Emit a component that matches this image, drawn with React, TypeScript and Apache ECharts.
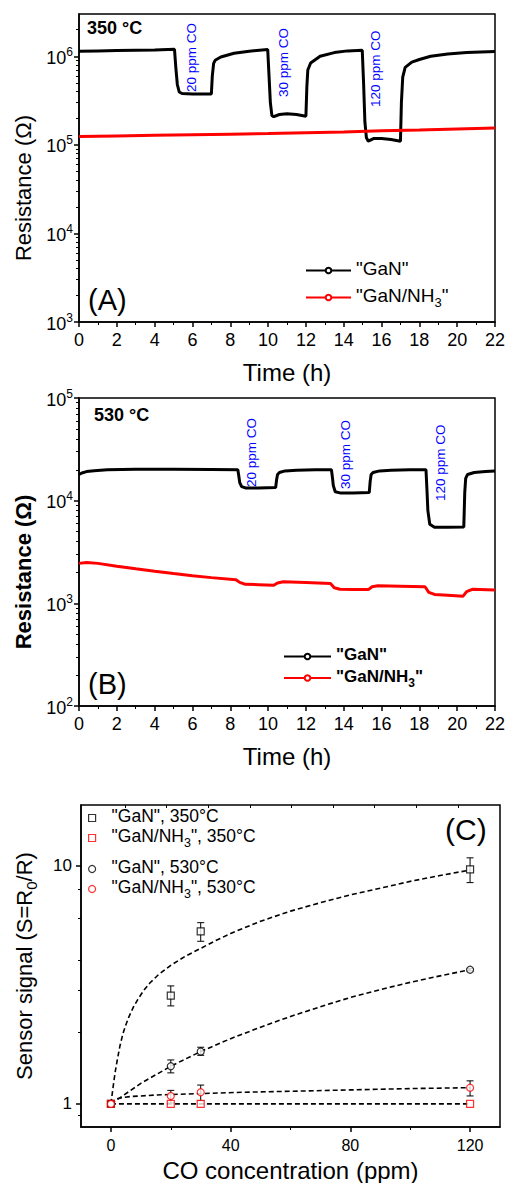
import React, { useEffect, useRef } from 'react';
import * as echarts from 'echarts';

// ---------- Panel A (350 °C) ----------
const tA_GaN = [0, 1, 2, 3, 4, 5.05, 5.12, 5.2, 5.3, 5.45, 6, 6.5, 7.0, 7.05, 7.12, 7.2, 7.5, 8.2, 9, 9.98,
  10.05, 10.12, 10.2, 10.3, 10.6, 11, 11.5, 12.0, 12.05, 12.1, 12.25, 12.75, 13.5, 14.2, 14.98,
  15.05, 15.12, 15.2, 15.3, 15.6, 16, 16.5, 17.0, 17.05, 17.12, 17.25, 17.6, 18, 18.6, 19.5, 20.5, 22];
const rA_GaN = [1.14e6, 1.15e6, 1.16e6, 1.17e6, 1.18e6, 1.2e6, 7.5e5, 4.8e5, 3.95e5, 3.8e5, 3.75e5, 3.75e5, 3.75e5, 6.0e5, 8.3e5, 9.0e5, 9.8e5, 1.08e6, 1.14e6, 1.19e6,
  6.0e5, 3.0e5, 2.15e5, 2.08e5, 2.2e5, 2.25e5, 2.2e5, 2.1e5, 4.5e5, 7.0e5, 8.4e5, 1.0e6, 1.1e6, 1.15e6, 1.17e6,
  5.0e5, 1.8e5, 1.2e5, 1.1e5, 1.18e5, 1.18e5, 1.15e5, 1.1e5, 3.0e5, 5.8e5, 7.5e5, 8.6e5, 9.2e5, 1.0e6, 1.06e6, 1.1e6, 1.13e6];
const tA_NH3 = [0, 2, 4, 6, 8, 10, 12, 14, 16, 18, 20, 22];
const rA_NH3 = [1.24e5, 1.26e5, 1.28e5, 1.3e5, 1.32e5, 1.34e5, 1.37e5, 1.4e5, 1.44e5, 1.47e5, 1.51e5, 1.55e5];

// ---------- Panel B (530 °C) ----------
const tB_GaN = [0, 0.15, 0.4, 0.8, 1.5, 3, 5, 7, 8.4, 8.45, 8.5, 8.6, 8.8, 9.5, 10.4, 10.45, 10.5, 10.6, 10.9, 11.5, 12.5, 13.35,
  13.4, 13.45, 13.55, 13.8, 14.5, 15.35, 15.4, 15.45, 15.55, 15.9, 16.5, 17.5, 18.35, 18.4, 18.45, 18.55, 18.8, 19.5, 20.35,
  20.4, 20.45, 20.55, 20.9, 21.5, 22];
const rB_GaN = [1.8e4, 1.86e4, 1.92e4, 1.96e4, 2.0e4, 2.02e4, 2.02e4, 2.01e4, 2.0e4, 1.75e4, 1.5e4, 1.37e4, 1.33e4, 1.33e4, 1.34e4,
  1.6e4, 1.8e4, 1.88e4, 1.95e4, 1.98e4, 2.0e4, 2.0e4, 1.7e4, 1.4e4, 1.22e4, 1.19e4, 1.19e4, 1.2e4,
  1.55e4, 1.8e4, 1.88e4, 1.95e4, 1.98e4, 2.0e4, 2.0e4, 1.3e4, 8.0e3, 5.9e3, 5.5e3, 5.5e3, 5.55e3,
  1.2e4, 1.65e4, 1.8e4, 1.88e4, 1.92e4, 1.95e4];
const tB_NH3 = [0, 0.4, 1, 2, 3, 4, 5, 6, 7, 8.3, 8.5, 8.8, 9.5, 10.3, 10.5, 10.8, 12, 13.3, 13.5, 13.8, 14.5, 15.3,
  15.5, 15.8, 17, 18.3, 18.5, 18.8, 19.5, 20.3, 20.5, 20.8, 22];
const rB_NH3 = [2.45e3, 2.5e3, 2.45e3, 2.3e3, 2.17e3, 2.05e3, 1.95e3, 1.86e3, 1.78e3, 1.7e3, 1.6e3, 1.53e3, 1.52e3, 1.5e3,
  1.58e3, 1.62e3, 1.6e3, 1.56e3, 1.42e3, 1.37e3, 1.36e3, 1.36e3, 1.45e3, 1.48e3, 1.47e3, 1.45e3,
  1.28e3, 1.22e3, 1.2e3, 1.17e3, 1.3e3, 1.37e3, 1.35e3];

// ---------- Panel C (sensor signal) ----------
const ppm = [0, 20, 30, 120];
const sGaN350 = [1, 2.85, 5.3, 9.65];
const loGaN350 = [1, 2.58, 4.82, 8.5];
const hiGaN350 = [1, 3.13, 5.77, 10.8];
const sNH3350 = [1, 1.0, 1.0, 1.0];
const sGaN530 = [1, 1.44, 1.66, 3.66];
const loGaN530 = [1, 1.35, 1.6, 3.62];
const hiGaN530 = [1, 1.53, 1.73, 3.7];
const sNH3530 = [1, 1.08, 1.12, 1.17];
const loNH3530 = [1, 1.01, 1.03, 1.08];
const hiNH3530 = [1, 1.14, 1.2, 1.25];

// dashed fit curves
const fitX_GaN350 = [0, 0.5, 1, 1.5, 2, 3, 4, 5, 6, 7.5, 9, 11, 13, 16, 20, 25, 30, 35, 40, 50, 60, 70, 80, 90, 100, 110, 120];
const fitY_GaN350 = [1, 1.12, 1.25, 1.38, 1.5, 1.75, 1.97, 2.15, 2.32, 2.55, 2.75, 3.0, 3.22, 3.5, 3.82, 4.18, 4.5, 4.85, 5.2, 5.85, 6.45, 7.0, 7.55, 8.05, 8.6, 9.1, 9.6];
const fitX_GaN530 = [0, 10, 20, 30, 40, 50, 60, 70, 80, 90, 100, 110, 120];
const fitY_GaN530 = [1, 1.22, 1.44, 1.66, 1.88, 2.1, 2.33, 2.56, 2.8, 3.02, 3.24, 3.45, 3.66];
const fitX_NH3530 = [0, 1, 2, 4, 7, 10, 15, 20, 30, 45, 60, 80, 100, 120];
const fitY_NH3530 = [1, 1.03, 1.05, 1.065, 1.075, 1.08, 1.09, 1.095, 1.105, 1.12, 1.13, 1.145, 1.16, 1.17];
const fitX_NH3350 = [0, 120];
const fitY_NH3350 = [1, 1];

// ---------- ticks ----------
const majorA = [1e3, 1e4, 1e5, 1e6];
const minorA = [2e3, 3e3, 4e3, 5e3, 6e3, 7e3, 8e3, 9e3, 2e4, 3e4, 4e4, 5e4, 6e4, 7e4, 8e4, 9e4,
  2e5, 3e5, 4e5, 5e5, 6e5, 7e5, 8e5, 9e5, 2e6];
const majorB = [1e2, 1e3, 1e4, 1e5];
const minorB = [200, 300, 400, 500, 600, 700, 800, 900, 2e3, 3e3, 4e3, 5e3, 6e3, 7e3, 8e3, 9e3,
  2e4, 3e4, 4e4, 5e4, 6e4, 7e4, 8e4, 9e4];
const majorC = [1, 10];
const minorC = [0.9, 2, 3, 4, 6, 8];
const xMajorC = [0, 40, 80, 120];
const xMinorC = [20, 60, 100];
const xTopC = [4.7, 18.6, 32.5, 46.4, 60.3, 74.2, 88.1, 102, 115.9];

const FONT = 'Liberation Sans, Arial, sans-serif';
const BLACK = '#000';
const RED = '#ff0000';
const BLUE = '#0000ff';

const zip = (xs: number[], ys: number[]) => xs.map((x, i) => [x, ys[i]]);
const errData = (xs: number[], lo: number[], hi: number[]) =>
  xs.map((x, i) => [x, lo[i], hi[i]]).filter((d) => d[1] !== d[2]);

const legendNames: Record<string, string> = {
  A_GaN: '{t|"GaN"}',
  A_NH3: '{t|"GaN/NH}{s|3}{t|"}',
  B_GaN: '{t|"GaN"}',
  B_NH3: '{t|"GaN/NH}{s|3}{t|"}',
  C_GaN350: '{t|"GaN", 350°C}',
  C_NH3350: '{t|"GaN/NH}{s|3}{t|", 350°C}',
  C_GaN530: '{t|"GaN", 530°C}',
  C_NH3530: '{t|"GaN/NH}{s|3}{t|", 530°C}',
};

const subRich = (size: number, subSize: number, weight: string = 'normal') => ({
  t: { fontSize: size, fontFamily: FONT, color: BLACK, fontWeight: weight, padding: [0, 0, 4, 0], verticalAlign: 'bottom' },
  s: { fontSize: subSize, fontFamily: FONT, color: BLACK, fontWeight: weight, verticalAlign: 'bottom' },
});

const supRich = {
  b: { fontSize: 18, fontFamily: FONT, color: BLACK, padding: [3, 0, 0, 0], verticalAlign: 'bottom' },
  p: { fontSize: 12, fontFamily: FONT, color: BLACK, verticalAlign: 'top' },
};

const axisLineStyle = { color: BLACK, width: 1.5 };

function timeXAxis(gridIndex: number) {
  return {
    gridIndex, type: 'value', min: 0, max: 22, interval: 2, position: 'bottom',
    axisLine: { show: true, onZero: false, lineStyle: axisLineStyle },
    axisTick: { show: true, length: 5, lineStyle: axisLineStyle },
    minorTick: { show: true, splitNumber: 2, length: 3, lineStyle: { color: BLACK, width: 1 } },
    axisLabel: { fontSize: 18, color: BLACK, fontFamily: FONT, margin: 9 },
    splitLine: { show: false }, minorSplitLine: { show: false },
    name: 'Time (h)', nameLocation: 'middle', nameGap: 38,
    nameTextStyle: { fontSize: 24, color: BLACK, fontFamily: FONT },
  };
}

function resYAxis(gridIndex: number, min: number, max: number, major: number[], bold: boolean) {
  return {
    gridIndex, type: 'log', min, max, position: 'left',
    axisLine: { show: true, onZero: false, lineStyle: axisLineStyle },
    axisTick: { show: true, length: 5, customValues: major, lineStyle: axisLineStyle },
    axisLabel: {
      customValues: major, margin: 6,
      formatter: (v: number) => `{b|10}{p|${Math.round(Math.log10(v))}}`,
      rich: supRich,
    },
    splitLine: { show: false },
    name: 'Resistance (Ω)', nameLocation: 'middle', nameGap: 45,
    nameTextStyle: { fontSize: 22, color: BLACK, fontFamily: FONT, fontWeight: bold ? 'bold' : 'normal', padding: [0, 40, 0, 0] },
  };
}

function minorYAxis(gridIndex: number, min: number, max: number, ticks: number[]) {
  return {
    gridIndex, type: 'log', min, max, position: 'left',
    axisLine: { show: false, onZero: false },
    axisTick: { show: true, length: 3, customValues: ticks, lineStyle: { color: BLACK, width: 1 } },
    axisLabel: { show: false },
    splitLine: { show: false },
  };
}

function lineSeries(name: string, xi: number, t: number[], r: number[], color: string, z: number) {
  return {
    name, type: 'line', xAxisIndex: xi, yAxisIndex: xi, data: zip(t, r),
    symbol: 'emptyCircle', symbolSize: 4, showSymbol: false,
    lineStyle: { color, width: 3 }, itemStyle: { color }, z,
    emphasis: { disabled: true }, silent: true,
  };
}

function fitSeries(xs: number[], ys: number[]) {
  return {
    type: 'line', xAxisIndex: 2, yAxisIndex: 2, data: zip(xs, ys),
    symbol: 'none', smooth: false,
    lineStyle: { color: BLACK, width: 1.6, type: [5, 3] }, z: 2, silent: true,
  };
}

function scatterSeries(name: string, ys: number[], symbol: string, color: string) {
  return {
    name, type: 'scatter', xAxisIndex: 2, yAxisIndex: 2, data: zip(ppm, ys),
    symbol, symbolSize: 7,
    itemStyle: { color: '#fff', borderColor: color, borderWidth: 1.2 }, z: 5, silent: true,
  };
}

const errRender = (params: any, api: any) => {
  const x = api.value(0);
  const p0 = api.coord([x, api.value(1)]);
  const p1 = api.coord([x, api.value(2)]);
  const c = 3.5;
  const st = { stroke: BLACK, lineWidth: 1 };
  return {
    type: 'group',
    children: [
      { type: 'line', shape: { x1: p0[0], y1: p0[1], x2: p1[0], y2: p1[1] }, style: st },
      { type: 'line', shape: { x1: p0[0] - c, y1: p0[1], x2: p0[0] + c, y2: p0[1] }, style: st },
      { type: 'line', shape: { x1: p1[0] - c, y1: p1[1], x2: p1[0] + c, y2: p1[1] }, style: st },
    ],
  };
};

function txt(text: string, x: number, y: number, size: number, opts: any = {}) {
  return {
    type: 'text', x, y, rotation: opts.rotation || 0, silent: true,
    style: {
      text, fill: opts.color || BLACK, fontSize: size, fontFamily: FONT, fontWeight: opts.weight || 'normal',
      align: opts.align || 'left', verticalAlign: 'middle', textAlign: opts.align || 'left', textVerticalAlign: 'middle',
    },
  };
}

const vert = { rotation: Math.PI / 2, color: BLUE };

const legendC = (names: string[], top: number) => ({
  data: names, orient: 'vertical', left: 88, top, padding: 0,
  itemWidth: 7, itemHeight: 7, itemGap: 2, selectedMode: false,
  itemStyle: { borderWidth: 1.2 },
  formatter: (n: string) => legendNames[n],
  textStyle: { fontSize: 17.5, color: BLACK, fontFamily: FONT, padding: [0, 0, 0, 11], rich: subRich(17.5, 12.5) },
});

const option: any = {
  animation: false,
  textStyle: { fontFamily: FONT },
  grid: [
    { left: 79, top: 14, width: 416, height: 308, show: true, borderColor: BLACK, borderWidth: 1.5, outerBoundsMode: 'none' },
    { left: 79, top: 398, width: 416, height: 308, show: true, borderColor: BLACK, borderWidth: 1.5, outerBoundsMode: 'none' },
    { left: 81, top: 805, width: 419, height: 322, show: true, borderColor: BLACK, borderWidth: 1.5, outerBoundsMode: 'none' },
  ],
  xAxis: [
    timeXAxis(0),
    timeXAxis(1),
    {
      gridIndex: 2, type: 'value', min: -10, max: 130, position: 'bottom',
      axisLine: { show: true, onZero: false, lineStyle: axisLineStyle },
      axisTick: { show: true, length: 5, customValues: xMajorC, lineStyle: axisLineStyle },
      axisLabel: { customValues: xMajorC, fontSize: 16, color: BLACK, fontFamily: FONT, margin: 10 },
      splitLine: { show: false },
      name: 'CO concentration (ppm)', nameLocation: 'middle', nameGap: 31,
      nameTextStyle: { fontSize: 24, color: BLACK, fontFamily: FONT },
    },
    {
      gridIndex: 2, type: 'value', min: -10, max: 130, position: 'bottom',
      axisLine: { show: false, onZero: false },
      axisTick: { show: true, length: 3, customValues: xMinorC, lineStyle: { color: BLACK, width: 1 } },
      axisLabel: { show: false }, splitLine: { show: false },
    },
    {
      gridIndex: 2, type: 'value', min: -10, max: 130, position: 'top',
      axisLine: { show: false, onZero: false },
      axisTick: { show: true, inside: true, length: 3, customValues: xTopC, lineStyle: { color: BLACK, width: 1 } },
      axisLabel: { show: false }, splitLine: { show: false },
    },
  ],
  yAxis: [
    resYAxis(0, 1e3, 3e6, majorA, false),
    resYAxis(1, 1e2, 1e5, majorB, true),
    {
      gridIndex: 2, type: 'log', min: 0.8, max: 18, position: 'left',
      axisLine: { show: true, onZero: false, lineStyle: axisLineStyle },
      axisTick: { show: true, length: 5, customValues: majorC, lineStyle: axisLineStyle },
      axisLabel: { customValues: majorC, fontSize: 17, color: BLACK, fontFamily: FONT, margin: 9 },
      splitLine: { show: false },
      name: '{t|Sensor signal (S=R}{s|0}{t|/R)}', nameLocation: 'middle', nameGap: 42,
      nameTextStyle: { fontSize: 22, color: BLACK, fontFamily: FONT, rich: subRich(22, 15) },
    },
    minorYAxis(0, 1e3, 3e6, minorA),
    minorYAxis(1, 1e2, 1e5, minorB),
    minorYAxis(2, 0.8, 18, minorC),
  ],
  legend: [
    {
      data: ['A_GaN', 'A_NH3'], orient: 'vertical', left: 305, top: 259, padding: 0,
      itemWidth: 45, itemHeight: 7, itemGap: 8, selectedMode: false,
      formatter: (n: string) => legendNames[n],
      textStyle: { fontSize: 19, color: BLACK, fontFamily: FONT, rich: subRich(19, 13) },
    },
    {
      data: ['B_GaN', 'B_NH3'], orient: 'vertical', left: 283, top: 646, padding: 0,
      itemWidth: 47, itemHeight: 7, itemGap: 4.5, selectedMode: false,
      formatter: (n: string) => legendNames[n],
      textStyle: { fontSize: 17, color: BLACK, fontFamily: FONT, fontWeight: 'bold', rich: subRich(17, 12, 'bold') },
    },
    legendC(['C_GaN350', 'C_NH3350'], 807),
    legendC(['C_GaN530', 'C_NH3530'], 858),
  ],
  series: [
    lineSeries('A_GaN', 0, tA_GaN, rA_GaN, BLACK, 3),
    lineSeries('A_NH3', 0, tA_NH3, rA_NH3, RED, 4),
    lineSeries('B_GaN', 1, tB_GaN, rB_GaN, BLACK, 3),
    lineSeries('B_NH3', 1, tB_NH3, rB_NH3, RED, 4),
    fitSeries(fitX_GaN350, fitY_GaN350),
    fitSeries(fitX_GaN530, fitY_GaN530),
    fitSeries(fitX_NH3530, fitY_NH3530),
    fitSeries(fitX_NH3350, fitY_NH3350),
    {
      type: 'custom', xAxisIndex: 2, yAxisIndex: 2, renderItem: errRender, clip: false, silent: true, z: 4,
      encode: { x: 0, y: [1, 2] },
      data: [
        ...errData(ppm, loGaN350, hiGaN350),
        ...errData(ppm, loGaN530, hiGaN530),
        ...errData(ppm, loNH3530, hiNH3530),
      ],
    },
    scatterSeries('C_GaN350', sGaN350, 'rect', BLACK),
    scatterSeries('C_NH3350', sNH3350, 'rect', RED),
    scatterSeries('C_GaN530', sGaN530, 'circle', BLACK),
    scatterSeries('C_NH3530', sNH3530, 'circle', RED),
  ],
  graphic: [
    txt('350 °C', 87, 28, 18, { weight: 'bold' }),
    txt('(A)', 88, 300, 29),
    txt('20 ppm CO', 191, 92, 13.5, vert),
    txt('30 ppm CO', 283.5, 97, 13.5, vert),
    txt('120 ppm CO', 375.5, 107, 13.5, vert),
    txt('530 °C', 94, 415, 18, { weight: 'bold' }),
    txt('(B)', 88, 684, 29),
    txt('20 ppm CO', 251, 487, 13.5, vert),
    txt('30 ppm CO', 345.5, 489, 13.5, vert),
    txt('120 ppm CO', 440.5, 501, 13.5, vert),
    txt('(C)', 445, 829, 30),
  ],
};

export default function App() {
  const ref = useRef<HTMLDivElement>(null);
  useEffect(() => {
    document.body.style.margin = '0';
    const chart = echarts.init(ref.current!, null, { renderer: 'svg' });
    chart.setOption(option);
    return () => chart.dispose();
  }, []);
  return <div ref={ref} style={{ width: 507, height: 1183 }} />;
}
